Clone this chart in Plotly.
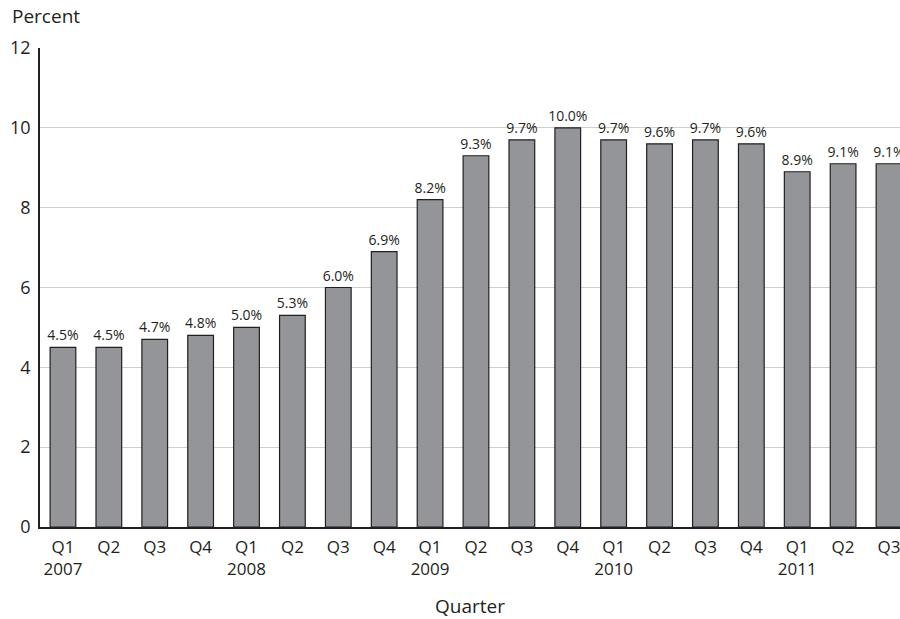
import plotly.graph_objects as go

quarters = ["Q1", "Q2", "Q3", "Q4", "Q1", "Q2", "Q3", "Q4", "Q1", "Q2", "Q3", "Q4",
            "Q1", "Q2", "Q3", "Q4", "Q1", "Q2", "Q3"]
years = ["2007", "", "", "", "2008", "", "", "", "2009", "", "", "",
         "2010", "", "", "", "2011", "", ""]
values = [4.5, 4.5, 4.7, 4.8, 5.0, 5.3, 6.0, 6.9, 8.2, 9.3, 9.7, 10.0,
          9.7, 9.6, 9.7, 9.6, 8.9, 9.1, 9.1]
y_ticks = [0, 2, 4, 6, 8, 10, 12]

idx = list(range(len(values)))
ticktext = [q + "<br>" + y if y else q + "<br> " for q, y in zip(quarters, years)]
labels = [f"{v:.1f}%" for v in values]

FONT = "Open Sans"
DARK = "#231f20"

fig = go.Figure()
fig.add_trace(go.Bar(
    x=idx, y=values, width=0.56,
    marker=dict(color="#939598", line=dict(color=DARK, width=1.2)),
    text=labels, textposition="outside", cliponaxis=False,
    constraintext="none",
    textfont=dict(family=FONT, size=14, color=DARK),
    hoverinfo="skip",
))

fig.update_layout(
    width=900, height=619,
    margin=dict(l=40, r=0, t=48, b=92),
    paper_bgcolor="white", plot_bgcolor="white",
    showlegend=False,
    xaxis=dict(
        tickmode="array", tickvals=idx, ticktext=ticktext,
        range=[-0.5, 18.24], showline=True, linecolor=DARK, linewidth=1.5,
        ticks="", showgrid=False, zeroline=False, ticklabelstandoff=4,
        ticklabeloverflow="allow",
        tickfont=dict(family=FONT, size=17, color=DARK),
    ),
    yaxis=dict(
        range=[0, 12], tickmode="array", tickvals=y_ticks,
        showline=True, linecolor=DARK, linewidth=1.5,
        showgrid=True, gridcolor="#cfcfcf", gridwidth=1, zeroline=False,
        ticks="", ticklabelstandoff=4,
        tickfont=dict(family=FONT, size=18, color=DARK),
    ),
    annotations=[
        dict(text="Percent", xref="paper", yref="paper", x=0, y=1,
             xanchor="left", yanchor="bottom", xshift=-30, yshift=17,
             showarrow=False, font=dict(family=FONT, size=19, color=DARK)),
        dict(text="Quarter", xref="paper", yref="paper", x=0.5, y=0,
             xanchor="center", yanchor="top", yshift=-64,
             showarrow=False, font=dict(family=FONT, size=19, color=DARK)),
    ],
)

fig.write_html("out.html")
